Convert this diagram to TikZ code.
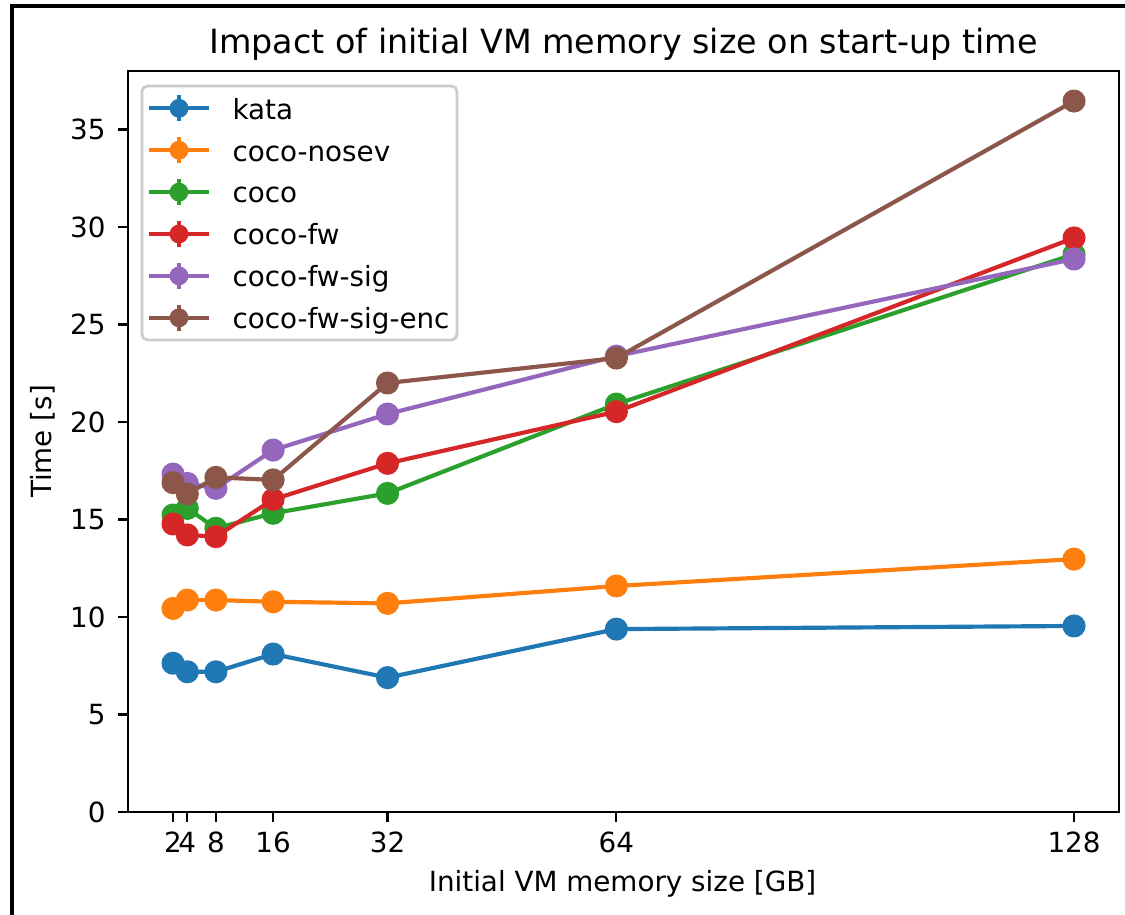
\documentclass[tikz,border=0pt]{standalone}
\usepackage{fontspec}
\setmainfont{DejaVu Sans}
\definecolor{tabblue}{HTML}{1F77B4}
\definecolor{taborange}{HTML}{FF7F0E}
\definecolor{tabgreen}{HTML}{2CA02C}
\definecolor{tabred}{HTML}{D62728}
\definecolor{tabpurple}{HTML}{9467BD}
\definecolor{tabbrown}{HTML}{8C564B}
\definecolor{legendedge}{HTML}{CCCCCC}
\begin{document}
\begin{tikzpicture}[x=0.36pt,y=-0.36pt,
  spine/.style={line width=0.8pt,black,line cap=rect},
  tickmark/.style={line width=0.8pt,black},
  ticklabel/.style={inner sep=0pt,font=\fontsize{10}{12}\selectfont},
  series/.style={draw=#1,line width=1.5pt,line join=round,
    mark=*,mark size=3.4pt,mark options={draw=none,fill=#1}},
  legframe/.style={draw=legendedge,line width=1pt,fill=white,fill opacity=0.8,
    rounded corners=2pt},
  legline/.style={draw=#1,line width=1.5pt},
  leglabel/.style={anchor=base west,inner sep=0pt,font=\fontsize{10}{12}\selectfont}]

% canvas and outer frame
\useasboundingbox[fill=white] (0,0) rectangle (1125,915);
\draw[line width=1.1pt,black] (12,915) -- (12,6) -- (1125,6);

% title
\node[anchor=base,inner sep=0pt,font=\fontsize{12}{14}\selectfont] (title) at (623.5,53)
  {Impact of initial VM memory size on start-up time};

% y ticks and labels
\foreach \v in {0,5,...,35}{
  \pgfmathsetmacro\py{812-19.5*\v}
  \draw[tickmark] (118,\py) -- (128,\py);
  \node[ticklabel,anchor=east] (yt\v) at (106,\py) {\v};
}
\node[anchor=base,rotate=90,inner sep=0pt,font=\fontsize{10}{12}\selectfont] (ylab) at (52,441.5) {Time [s]};

% data area: x in GB, y in seconds
\begin{scope}[shift={(158.7,812)},x=2.57436pt,y=7.02pt]
  \foreach \v in {2,4,8,16,32,64,128}{
    \draw[tickmark] (\v,0) -- ++(0,-3.5pt);
    \node[ticklabel,anchor=base] (xt\v) at ([yshift=-14.6pt]\v,0) {\v};
  }
  \draw[series=tabblue] plot coordinates {(2,7.63) (4,7.19) (8,7.19) (16,8.10) (32,6.89) (64,9.38) (128,9.54)};
  \draw[series=taborange] plot coordinates {(2,10.44) (4,10.87) (8,10.87) (16,10.78) (32,10.70) (64,11.59) (128,12.97)};
  \draw[series=tabgreen] plot coordinates {(2,15.23) (4,15.57) (8,14.55) (16,15.32) (32,16.34) (64,20.92) (128,28.6)};
  \draw[series=tabred] plot coordinates {(2,14.77) (4,14.21) (8,14.12) (16,16.03) (32,17.88) (64,20.53) (128,29.44)};
  \draw[series=tabpurple] plot coordinates {(2,17.33) (4,16.85) (8,16.6) (16,18.56) (32,20.41) (64,23.38) (128,28.36)};
  \draw[series=tabbrown] plot coordinates {(2,16.89) (4,16.31) (8,17.16) (16,17.03) (32,22.0) (64,23.28) (128,36.46)};
\end{scope}

% axes frame
\draw[spine] (128,71) rectangle (1119,812);
\node[anchor=base,inner sep=0pt,font=\fontsize{10}{12}\selectfont] (xlab) at (622.5,891.7) {Initial VM memory size [GB]};

% legend
\draw[legframe] (142,86) rectangle (457,340);
\foreach \name/\col [count=\i from 0] in {kata/tabblue,coco-nosev/taborange,coco/tabgreen,coco-fw/tabred,coco-fw-sig/tabpurple,coco-fw-sig-enc/tabbrown}{
  \pgfmathsetmacro\ly{108.3+41.9*\i}
  \draw[legline=\col] (149,\ly) -- (209,\ly);
  \draw[legline=\col] (179,\ly-13) -- (179,\ly+13);
  \fill[\col] (179,\ly) circle[radius=3.4pt];
  \node[leglabel] (leg\i) at (232,\ly+10.8) {\name};
}
\end{tikzpicture}
\end{document}
